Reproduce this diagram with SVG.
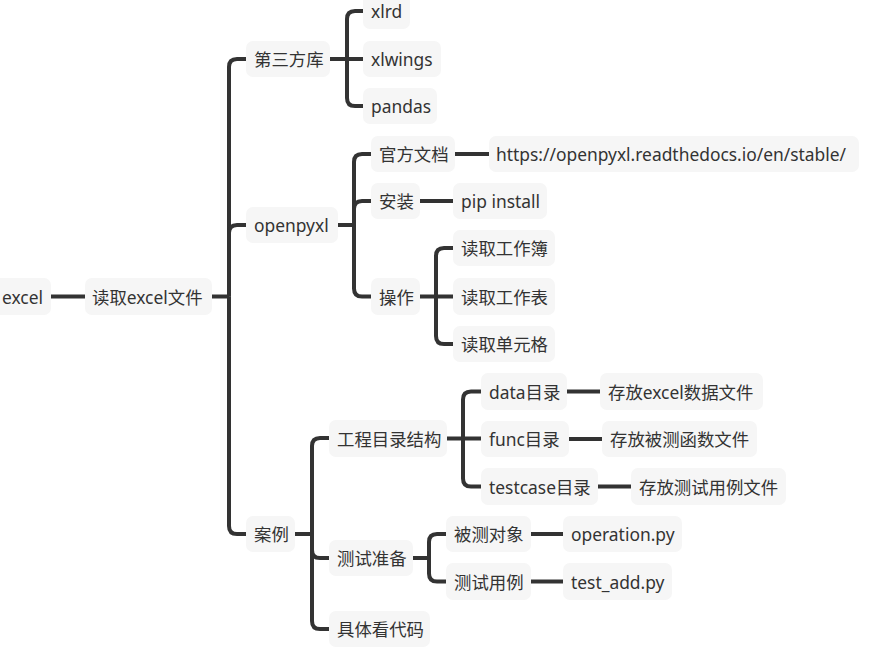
<svg xmlns="http://www.w3.org/2000/svg" width="878" height="653" viewBox="0 0 878 653">
<style>
.n rect{fill:#f6f6f6;}
.n text{font-family:"Noto Sans","Noto Sans CJK SC",sans-serif;font-size:17.4px;fill:#333333;dominant-baseline:central;}
#connectors path{fill:none;stroke:#333333;stroke-width:4;stroke-linecap:butt;}
</style>
<rect width="878" height="653" fill="#ffffff"/>
<g id="connectors">
<path d="M51,296.5 H85"/>
<path d="M212,296.5 H229"/>
<path d="M229,296.5 V67 Q229,59 237,59 H246"/>
<path d="M229,296.5 V233 Q229,225 237,225 H246"/>
<path d="M229,296.5 V526 Q229,534 237,534 H246"/>
<path d="M330,59 H363"/>
<path d="M347,59 V19 Q347,11 355,11 H363"/>
<path d="M347,59 V98 Q347,106 355,106 H363"/>
<path d="M338,225 H354"/>
<path d="M354,225 V162 Q354,154 362,154 H371"/>
<path d="M354,225 V209 Q354,201 362,201 H371"/>
<path d="M354,225 V288.5 Q354,296.5 362,296.5 H371"/>
<path d="M455,154 H489"/>
<path d="M420,201 H453"/>
<path d="M420,296.5 H453"/>
<path d="M436,296.5 V256 Q436,248 444,248 H453"/>
<path d="M436,296.5 V336 Q436,344 444,344 H453"/>
<path d="M295,534 H312"/>
<path d="M312,534 V446 Q312,438 320,438 H329"/>
<path d="M312,534 V550 Q312,558 320,558 H329"/>
<path d="M312,534 V621 Q312,629 320,629 H329"/>
<path d="M447,438.5 H481"/>
<path d="M463,438.5 V399.5 Q463,391.5 471,391.5 H481"/>
<path d="M463,438.5 V478.5 Q463,486.5 471,486.5 H481"/>
<path d="M413,558 H429"/>
<path d="M429,558 V542 Q429,534 437,534 H446"/>
<path d="M429,558 V573.5 Q429,581.5 437,581.5 H446"/>
<path d="M567,391.5 H600"/>
<path d="M569,439 H602"/>
<path d="M598,486.5 H631"/>
<path d="M531,534 H563"/>
<path d="M531,581.5 H563"/>
</g>
<g id="n-excel" class="n"><rect x="-6" y="278" width="57" height="37" rx="7"/><text x="2" y="296.5">excel</text></g>
<g id="n-read" class="n"><rect x="85" y="278" width="127" height="37" rx="7"/><text x="92" y="296.5">读取excel文件</text></g>
<g id="n-lib" class="n"><rect x="246" y="41" width="84" height="36" rx="7"/><text x="254" y="59">第三方库</text></g>
<g id="n-xlrd" class="n"><rect x="363" y="-7" width="47" height="36" rx="7"/><text x="371" y="11">xlrd</text></g>
<g id="n-xlwings" class="n"><rect x="363" y="41" width="78" height="36" rx="7"/><text x="371" y="59">xlwings</text></g>
<g id="n-pandas" class="n"><rect x="363" y="88" width="74" height="36" rx="7"/><text x="371" y="106">pandas</text></g>
<g id="n-openpyxl" class="n"><rect x="246" y="207" width="92" height="36" rx="7"/><text x="254" y="225">openpyxl</text></g>
<g id="n-docs" class="n"><rect x="371" y="136" width="84" height="36" rx="7"/><text x="379" y="154">官方文档</text></g>
<g id="n-install" class="n"><rect x="371" y="183" width="49" height="36" rx="7"/><text x="379" y="201">安装</text></g>
<g id="n-op" class="n"><rect x="371" y="278" width="49" height="37" rx="7"/><text x="379" y="296.5">操作</text></g>
<g id="n-url" class="n"><rect x="489" y="136" width="370" height="36" rx="7"/><text x="496" y="154">https://openpyxl.readthedocs.io/en/stable/</text></g>
<g id="n-pip" class="n"><rect x="453" y="183" width="94" height="36" rx="7"/><text x="461" y="201">pip install</text></g>
<g id="n-wb" class="n"><rect x="453" y="230" width="102" height="36" rx="7"/><text x="461" y="248">读取工作簿</text></g>
<g id="n-ws" class="n"><rect x="453" y="278" width="102" height="37" rx="7"/><text x="461" y="296.5">读取工作表</text></g>
<g id="n-cell" class="n"><rect x="453" y="326" width="102" height="36" rx="7"/><text x="461" y="344">读取单元格</text></g>
<g id="n-case" class="n"><rect x="246" y="516" width="49" height="36" rx="7"/><text x="254" y="534">案例</text></g>
<g id="n-proj" class="n"><rect x="329" y="420" width="118" height="37" rx="7"/><text x="337" y="438.5">工程目录结构</text></g>
<g id="n-prep" class="n"><rect x="329" y="540" width="84" height="36" rx="7"/><text x="337" y="558">测试准备</text></g>
<g id="n-code" class="n"><rect x="329" y="611" width="101" height="36" rx="7"/><text x="337" y="629">具体看代码</text></g>
<g id="n-data" class="n"><rect x="481" y="373" width="86" height="37" rx="7"/><text x="489" y="391.5">data目录</text></g>
<g id="n-func" class="n"><rect x="481" y="421" width="88" height="36" rx="7"/><text x="489" y="439">func目录</text></g>
<g id="n-tc" class="n"><rect x="481" y="468" width="117" height="37" rx="7"/><text x="489" y="486.5">testcase目录</text></g>
<g id="n-s1" class="n"><rect x="600" y="373" width="163" height="37" rx="7"/><text x="608" y="391.5">存放excel数据文件</text></g>
<g id="n-s2" class="n"><rect x="602" y="421" width="155" height="36" rx="7"/><text x="610" y="439">存放被测函数文件</text></g>
<g id="n-s3" class="n"><rect x="631" y="468" width="155" height="37" rx="7"/><text x="639" y="486.5">存放测试用例文件</text></g>
<g id="n-obj" class="n"><rect x="446" y="516" width="85" height="36" rx="7"/><text x="454" y="534">被测对象</text></g>
<g id="n-tcase" class="n"><rect x="446" y="563" width="85" height="37" rx="7"/><text x="454" y="581.5">测试用例</text></g>
<g id="n-opy" class="n"><rect x="563" y="516" width="119" height="36" rx="7"/><text x="571" y="534">operation.py</text></g>
<g id="n-tadd" class="n"><rect x="563" y="563" width="109" height="37" rx="7"/><text x="571" y="581.5">test_add.py</text></g>
</svg>
